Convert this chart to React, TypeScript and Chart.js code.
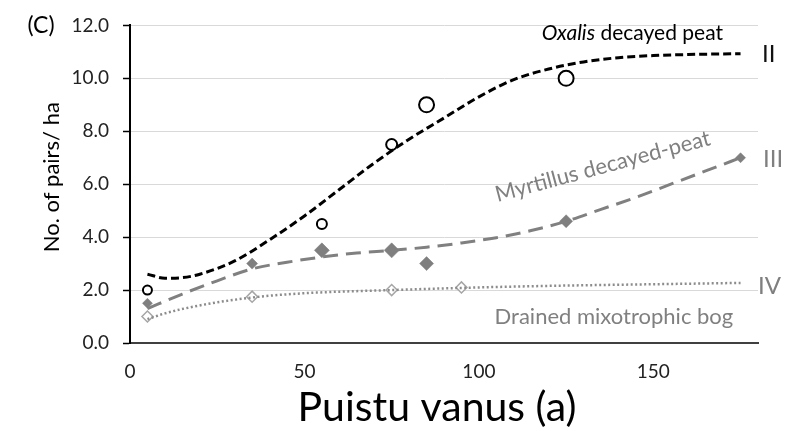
import { useEffect, useRef } from "react";
import { Chart, registerables } from "chart.js";

Chart.register(...registerables);

// ---- data ----
const xTickValues = [0, 50, 100, 150];

// II – Oxalis decayed peat (open circles)
const oxalisAges = [5, 55, 75, 85, 125];
const oxalisPairs = [2.0, 4.5, 7.5, 9.0, 10.0];
// III – Myrtillus decayed-peat (filled diamonds)
const myrtillusAges = [5, 35, 55, 75, 85, 125, 175];
const myrtillusPairs = [1.5, 3.0, 3.5, 3.5, 3.0, 4.6, 7.0];
// IV – Drained mixotrophic bog (open diamonds)
const bogAges = [5, 35, 75, 95];
const bogPairs = [1.0, 1.75, 2.0, 2.1];

// trend lines
const oxalisTrendAges = [5, 10, 15, 20, 30, 40, 50, 60, 70, 80, 90, 100, 110, 120, 130, 140, 150, 160, 175];
const oxalisTrendPairs = [2.6, 2.45, 2.47, 2.6, 3.1, 3.9, 4.8, 5.8, 6.8, 7.7, 8.5, 9.3, 9.95, 10.35, 10.62, 10.78, 10.86, 10.9, 10.93];
const myrtillusTrendAges = [5, 15, 25, 35, 45, 55, 65, 75, 85, 95, 105, 115, 125, 135, 145, 155, 165, 175];
const myrtillusTrendPairs = [1.3, 1.85, 2.35, 2.8, 3.05, 3.25, 3.4, 3.5, 3.62, 3.78, 3.98, 4.25, 4.6, 5.05, 5.5, 6.0, 6.5, 7.0];
const bogTrendAges = [5, 10, 20, 35, 50, 75, 100, 125, 150, 175];
const bogTrendPairs = [0.9, 1.12, 1.42, 1.72, 1.88, 2.0, 2.1, 2.17, 2.22, 2.27];

const xTitle = "Puistu vanus (a)";
const yTitle = "No. of pairs/ ha";

// marker sizes (style)
const oxalisRadii = [4.5, 5, 5.5, 7.5, 7.5];
const myrtillusRadii = [5, 5.5, 7.5, 7.5, 7, 6.5, 5];

const FONT = "Lato";

function toXY(xs: number[], ys: number[]) {
  return xs.map((x, i) => ({ x, y: ys[i] }));
}

export default function App() {
  const ref = useRef<HTMLCanvasElement>(null);

  useEffect(() => {
    const canvas = ref.current;
    if (!canvas) return;
    Chart.defaults.font.family = FONT;

    const annotations = {
      id: "annotations",
      afterDraw(chart: any) {
        const { ctx, chartArea, scales } = chart;
        const xs = scales.x;
        const ys = scales.y;
        ctx.save();
        ctx.textBaseline = "middle";

        // panel label
        ctx.font = `23px ${FONT}`;
        ctx.fillStyle = "#000";
        ctx.textAlign = "center";
        ctx.fillText("(C)", 41, ys.getPixelForValue(12));

        // axis titles
        ctx.font = `41px ${FONT}`;
        ctx.fillText(xTitle, chartArea.left + (chartArea.right - chartArea.left) / 2 - 7, 408);
        ctx.save();
        ctx.translate(52, (chartArea.top + chartArea.bottom) / 2 - 7);
        ctx.rotate(-Math.PI / 2);
        ctx.font = `22px ${FONT}`;
        ctx.fillText(yTitle, 0, 0);
        ctx.restore();

        // Oxalis decayed peat
        const ox = xs.getPixelForValue(144);
        const oy = ys.getPixelForValue(11.7);
        ctx.font = `italic 21px ${FONT}`;
        const w1 = ctx.measureText("Oxalis").width;
        ctx.font = `21px ${FONT}`;
        const w2 = ctx.measureText(" decayed peat").width;
        const sx = ox - (w1 + w2) / 2;
        ctx.textAlign = "left";
        ctx.font = `italic 21px ${FONT}`;
        ctx.fillText("Oxalis", sx, oy);
        ctx.font = `21px ${FONT}`;
        ctx.fillText(" decayed peat", sx + w1, oy);

        // Myrtillus (rotated)
        ctx.save();
        ctx.fillStyle = "#808080";
        ctx.translate(xs.getPixelForValue(135.5), ys.getPixelForValue(6.67));
        ctx.rotate((-15 * Math.PI) / 180);
        ctx.textAlign = "center";
        ctx.font = `22px ${FONT}`;
        ctx.fillText("Myrtillus decayed-peat", 0, 0);
        ctx.restore();

        // Drained mixotrophic bog
        ctx.fillStyle = "#808080";
        ctx.textAlign = "center";
        ctx.font = `22px ${FONT}`;
        ctx.fillText("Drained mixotrophic bog", xs.getPixelForValue(138.7), ys.getPixelForValue(1.0));

        // roman numerals
        ctx.textAlign = "left";
        ctx.font = `24px ${FONT}`;
        ctx.fillStyle = "#111";
        ctx.fillText("II", chartArea.right + 4, ys.getPixelForValue(10.9));
        ctx.fillStyle = "#7f7f7f";
        ctx.fillText("III", chartArea.right + 5, ys.getPixelForValue(6.95));
        ctx.fillText("IV", chartArea.right + 0, ys.getPixelForValue(2.15));
        ctx.restore();
      },
    };

    const chart = new Chart(canvas, {
      type: "scatter",
      data: {
        datasets: [
          {
            label: "II trend",
            data: toXY(oxalisTrendAges, oxalisTrendPairs),
            showLine: true,
            borderColor: "#000",
            borderWidth: 3,
            borderDash: [8, 4],
            pointRadius: 0,
            cubicInterpolationMode: "monotone",
          },
          {
            label: "III trend",
            data: toXY(myrtillusTrendAges, myrtillusTrendPairs),
            showLine: true,
            borderColor: "#808080",
            borderWidth: 3,
            borderDash: [15, 8],
            pointRadius: 0,
            cubicInterpolationMode: "monotone",
          },
          {
            label: "IV trend",
            data: toXY(bogTrendAges, bogTrendPairs),
            showLine: true,
            borderColor: "#8c8c8c",
            borderWidth: 2.5,
            borderDash: [2, 2.5],
            pointRadius: 0,
            cubicInterpolationMode: "monotone",
          },
          {
            label: "II",
            data: toXY(oxalisAges, oxalisPairs),
            pointStyle: "circle",
            pointRadius: oxalisRadii,
            pointBackgroundColor: "#fff",
            pointBorderColor: "#000",
            pointBorderWidth: 2,
          },
          {
            label: "III",
            data: toXY(myrtillusAges, myrtillusPairs),
            pointStyle: "rectRot",
            pointRadius: myrtillusRadii,
            pointBackgroundColor: "#7f7f7f",
            pointBorderColor: "#7f7f7f",
            pointBorderWidth: 0.5,
          },
          {
            label: "IV",
            data: toXY(bogAges, bogPairs),
            pointStyle: "rectRot",
            pointRadius: 5.5,
            pointBackgroundColor: "#fff",
            pointBorderColor: "#a6a6a6",
            pointBorderWidth: 1.5,
          },
        ],
      } as any,
      options: {
        responsive: false,
        animation: false,
        layout: { padding: { top: 23, right: 30, left: 0, bottom: 0 } },
        plugins: { legend: { display: false }, tooltip: { enabled: false } },
        scales: {
          x: {
            type: "linear",
            min: 0,
            max: 180,
            afterFit: (s: any) => {
              s.height = 88;
            },
            afterBuildTicks: (s: any) => {
              s.ticks = xTickValues.map((v) => ({ value: v }));
            },
            ticks: {
              padding: 17,
              color: "#222",
              font: { size: 19 },
              maxRotation: 0,
            },
            grid: { display: false, drawTicks: false },
            border: { display: true, color: "#404040", width: 2 },
            title: { display: false, text: xTitle },
          },
          y: {
            min: 0,
            max: 12,
            afterFit: (s: any) => {
              s.width = 130;
            },
            ticks: {
              stepSize: 2,
              padding: 14,
              color: "#222",
              font: { size: 19 },
              callback: (v: any) => Number(v).toFixed(1),
            },
            grid: {
              color: "#d9d9d9",
              lineWidth: 1,
              tickColor: "#000",
              tickLength: 7,
              tickWidth: 1.5,
            },
            border: { display: true, color: "#000", width: 2 },
            title: { display: false, text: yTitle },
          },
        },
      } as any,
      plugins: [annotations],
    });

    return () => chart.destroy();
  }, []);

  return (
    <div style={{ position: "absolute", left: 0, top: 0, width: 788, height: 431, background: "#fff" }}>
      <canvas ref={ref} width={788} height={431} style={{ display: "block" }} />
    </div>
  );
}
